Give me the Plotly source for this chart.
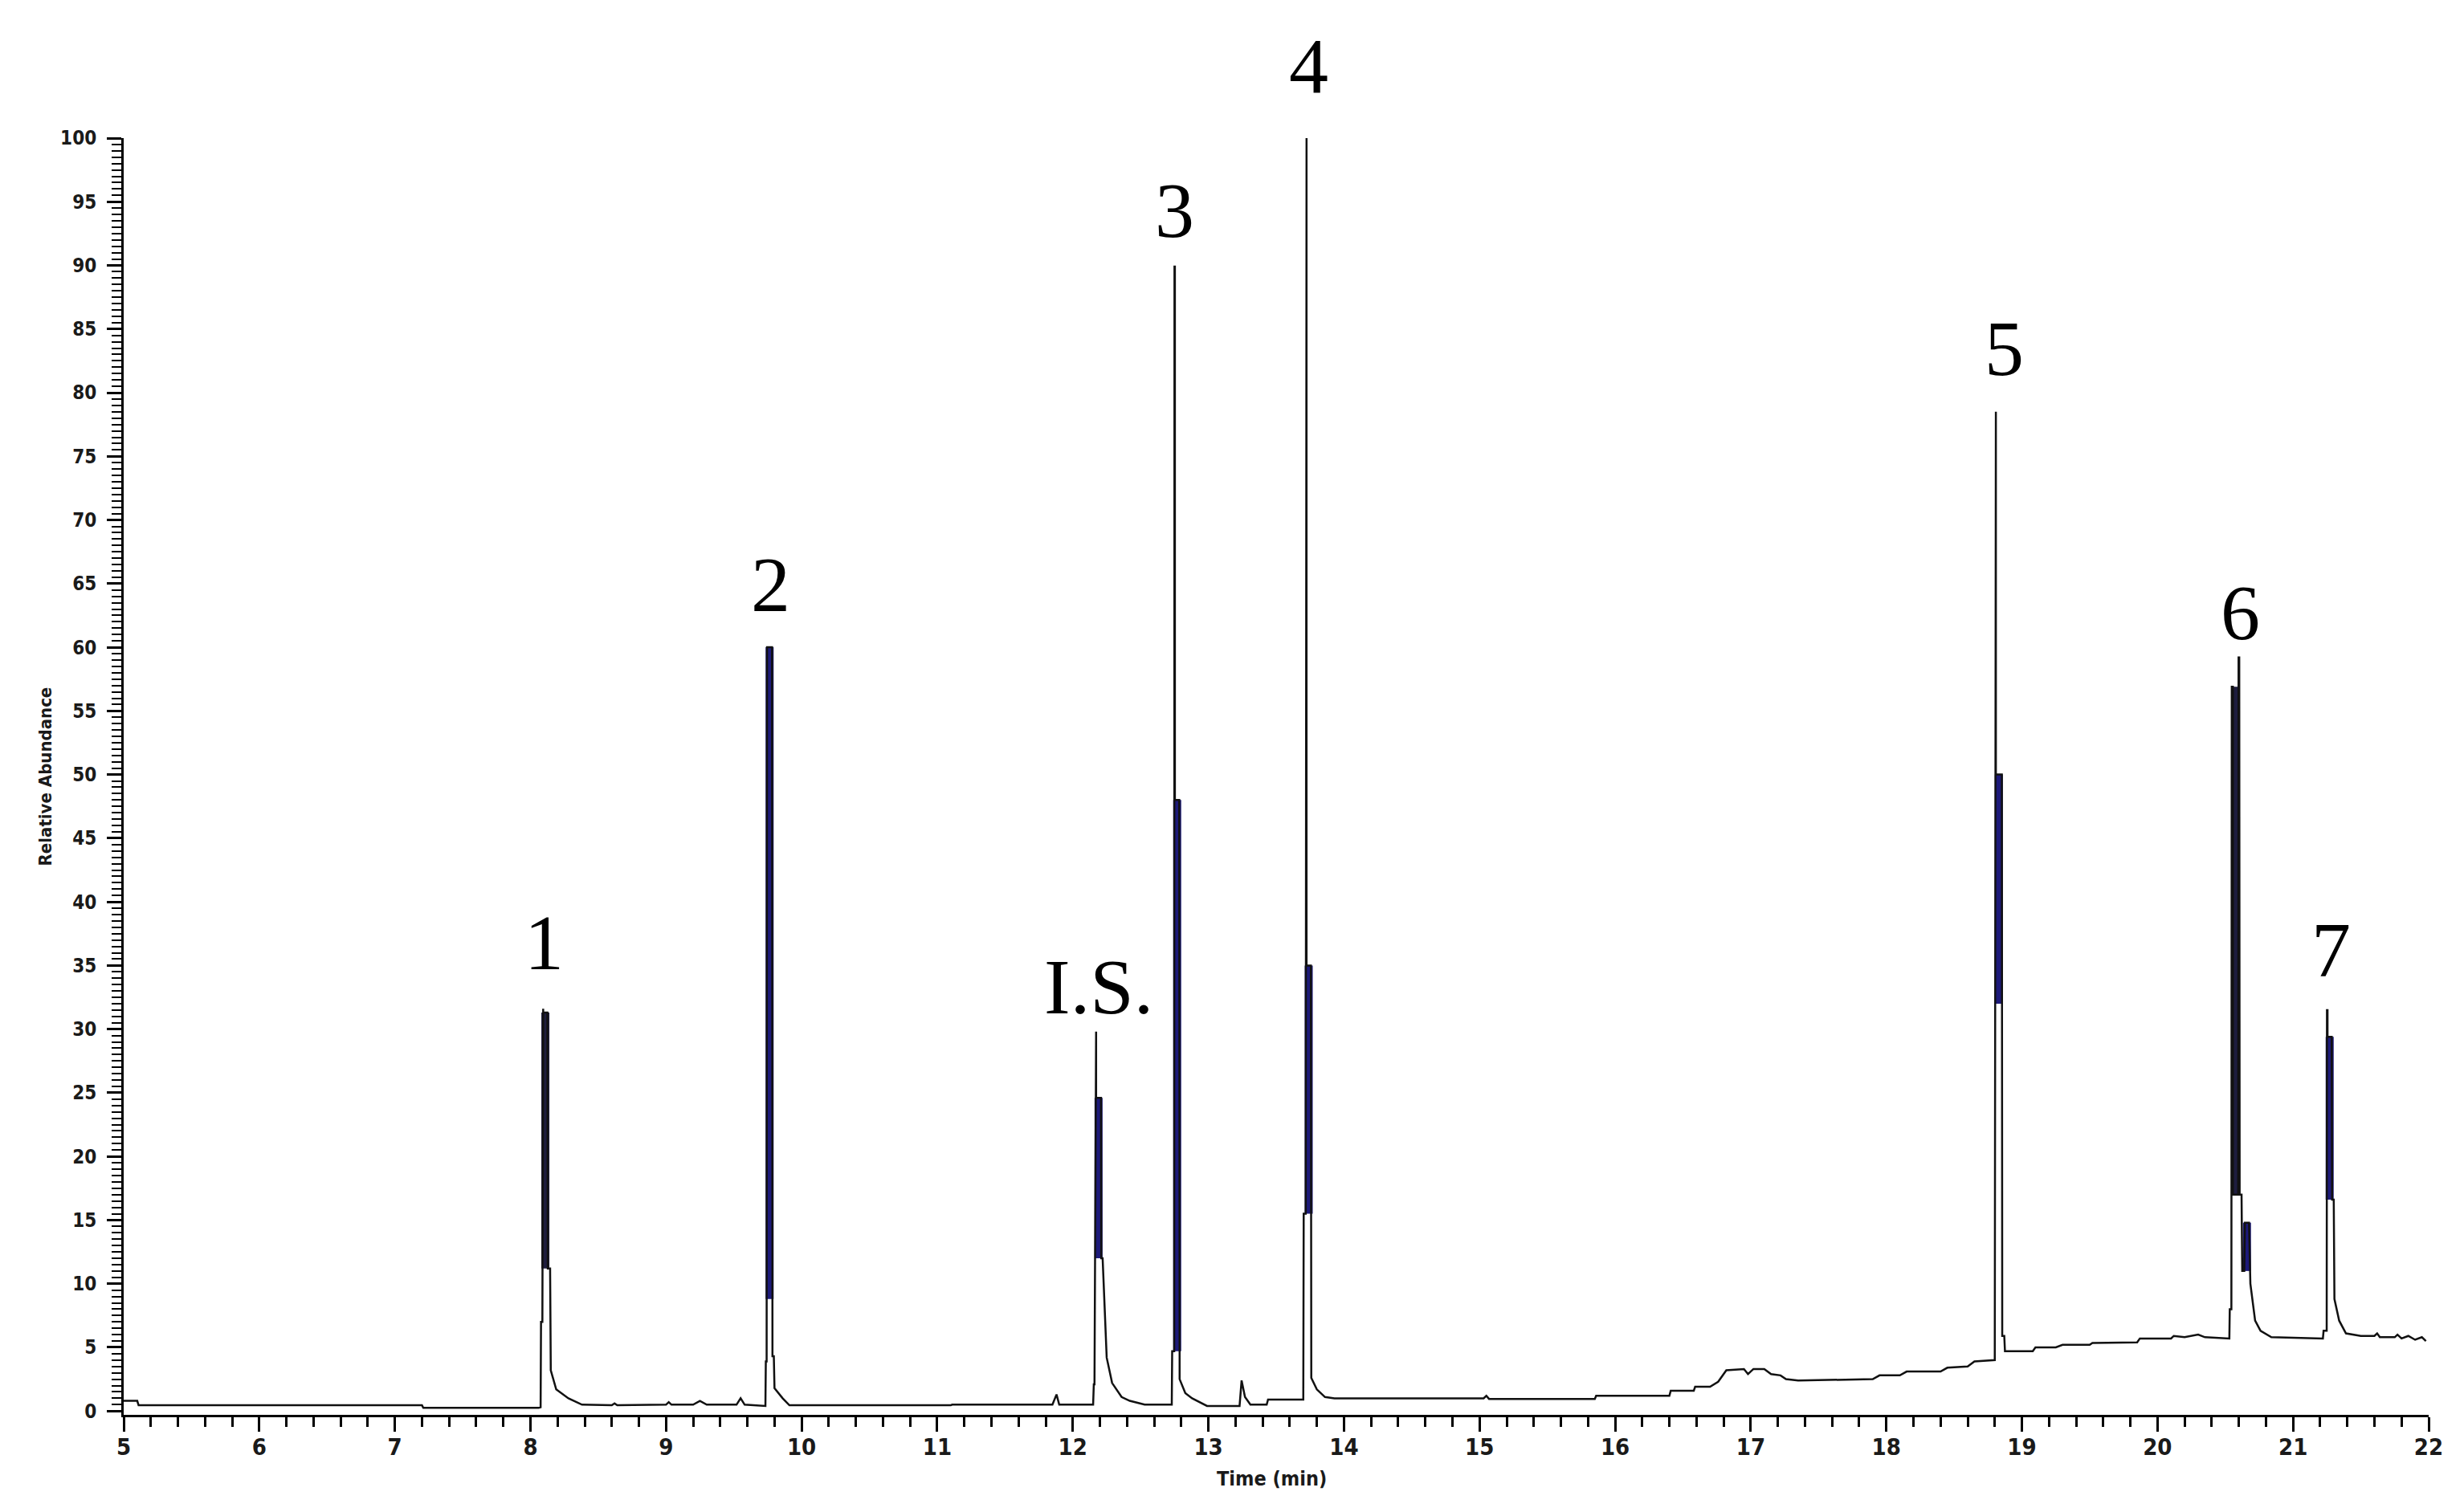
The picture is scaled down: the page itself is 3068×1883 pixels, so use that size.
import plotly.graph_objects as go

# chromatogram trace (time in min, relative abundance in %)
time_min = [
    5.00, 5.10, 5.11, 7.20, 7.21, 8.06,
    # peak 1
    8.075, 8.078, 8.088, 8.090, 8.094, 8.094, 8.125, 8.128, 8.145, 8.150, 8.19, 8.28, 8.38,
    8.60, 8.62, 8.64, 9.00, 9.02, 9.04, 9.20, 9.25, 9.30, 9.52, 9.55, 9.58, 9.72,
    # peak 2
    9.733, 9.736, 9.742, 9.745, 9.782, 9.785, 9.795, 9.80, 9.86, 9.91,
    11.10, 11.11, 11.85, 11.88, 11.90, 12.15,
    # I.S.
    12.155, 12.160, 12.168, 12.170, 12.172, 12.172, 12.208, 12.210, 12.22, 12.25, 12.29, 12.36, 12.42, 12.53,
    12.73,
    # peak 3
    12.733, 12.748, 12.750, 12.753, 12.753, 12.785, 12.788, 12.83, 12.88, 12.99,
    13.23, 13.245, 13.27, 13.31, 13.43, 13.44, 13.70,
    # peak 4
    13.703, 13.718, 13.720, 13.724, 13.724, 13.756, 13.759, 13.80, 13.86, 13.93,
    15.03, 15.05, 15.07, 15.85, 15.86, 16.40, 16.41, 16.58, 16.59, 16.70, 16.76, 16.82,
    16.95, 16.98, 17.02, 17.10, 17.15, 17.22, 17.26, 17.35, 17.90, 17.95, 18.10, 18.15,
    18.40, 18.45, 18.60, 18.65, 18.80,
    # peak 5
    18.805, 18.808, 18.808, 18.852, 18.855, 18.87, 18.875, 19.08, 19.10, 19.25, 19.30,
    19.50, 19.52, 19.85, 19.87, 20.10, 20.12, 20.20, 20.30, 20.35, 20.53,
    # peak 6
    20.533, 20.545, 20.548, 20.556, 20.556, 20.595, 20.598, 20.603, 20.606, 20.62, 20.625,
    20.64, 20.645, 20.675, 20.685, 20.72, 20.76, 20.84, 21.22,
    # peak 7
    21.225, 21.248, 21.250, 21.254, 21.254, 21.285, 21.288, 21.300, 21.305, 21.34, 21.39,
    21.50, 21.60, 21.62, 21.64, 21.75, 21.77, 21.80, 21.85, 21.90, 21.95, 21.98,
]
rel_abund = [
    0.8, 0.8, 0.45, 0.45, 0.25, 0.25,
    0.3, 7.0, 7.0, 31.6, 31.6, 31.3, 31.3, 11.2, 11.2, 3.2, 1.7, 1.0, 0.5,
    0.45, 0.6, 0.45, 0.5, 0.7, 0.5, 0.5, 0.8, 0.5, 0.5, 1.0, 0.5, 0.4,
    0.4, 3.9, 3.9, 60.0, 60.0, 4.3, 4.3, 1.8, 1.0, 0.45,
    0.45, 0.5, 0.5, 1.3, 0.5, 0.5,
    2.1, 2.1, 29.8, 29.8, 29.8, 24.6, 24.6, 12.0, 12.0, 4.2, 2.2, 1.1, 0.8, 0.5,
    0.5,
    4.7, 4.7, 89.9, 89.9, 48.0, 48.0, 2.5, 1.4, 1.0, 0.4,
    0.4, 2.4, 1.1, 0.5, 0.5, 0.9, 0.9,
    15.5, 15.5, 100.0, 100.0, 35.0, 35.0, 2.6, 1.7, 1.1, 1.0,
    1.0, 1.2, 0.95, 0.95, 1.2, 1.2, 1.6, 1.6, 1.9, 1.9, 2.3, 3.2,
    3.3, 2.9, 3.3, 3.3, 2.9, 2.8, 2.5, 2.4, 2.5, 2.8, 2.8, 3.1,
    3.1, 3.4, 3.5, 3.9, 4.0,
    78.5, 78.5, 50.0, 50.0, 5.9, 5.9, 4.7, 4.7, 5.0, 5.0, 5.2,
    5.2, 5.35, 5.4, 5.7, 5.7, 5.9, 5.8, 6.0, 5.8, 5.7,
    8.0, 8.0, 56.9, 56.9, 17.0, 17.0, 59.2, 59.2, 17.0, 17.0, 11.0,
    11.0, 14.8, 14.8, 10.0, 7.1, 6.3, 5.8, 5.7,
    6.3, 6.3, 31.5, 31.5, 29.4, 29.4, 16.6, 16.6, 8.8, 7.1, 6.1,
    5.9, 5.9, 6.1, 5.8, 5.8, 6.0, 5.7, 5.9, 5.6, 5.8, 5.5,
]

# filled (integrated) part of each peak
fill_t = [8.110, 9.764, 12.190, 12.770, 13.740, 18.830, 20.576, 20.660, 21.270]
fill_lo = [11.2, 8.8, 12.0, 4.7, 15.5, 32.0, 17.0, 11.0, 16.6]
fill_hi = [31.3, 60.0, 24.6, 48.0, 35.0, 50.0, 56.9, 14.8, 29.4]
fill_col = ["#1e1d3e", "#1d1a7a", "#1d1a7a", "#1d1a7a", "#1d1a7a", "#1d1a7a",
            "#1e1d3e", "#1d1a7a", "#1d1a7a"]

# peak labels
label_text = ["1", "2", "I.S.", "3", "4", "5", "6", "7"]
label_t = [8.10, 9.77, 12.19, 12.75, 13.74, 18.87, 20.61, 21.28]
label_y = [36.8, 64.9, 33.3, 94.3, 105.7, 83.5, 62.7, 36.2]

x_ticks = list(range(5, 23))
y_ticks = list(range(0, 101, 5))

y_range = [-0.3, 100]

fig = go.Figure()

for t, lo, hi, c in zip(fill_t, fill_lo, fill_hi, fill_col):
    fig.add_trace(go.Scatter(x=[t, t], y=[lo, hi], mode='lines',
                             line=dict(color=c, width=10), hoverinfo='skip'))

fig.add_trace(go.Scatter(x=time_min, y=rel_abund, mode='lines',
                         line=dict(color='#111111', width=2.5)))

for txt, t, yv in zip(label_text, label_t, label_y):
    fig.add_annotation(x=t, xref='x', y=(yv - y_range[0]) / (y_range[1] - y_range[0]),
                       yref='paper', text=txt, showarrow=False,
                       xanchor='center', yanchor='middle',
                       font=dict(family='Liberation Serif, serif', size=98, color='black'))

small = 'DejaVu Sans Condensed, Liberation Sans Narrow, sans-serif'

fig.add_annotation(x=-0.034, xref='paper', y=0.5, yref='paper', text='Relative Abundance',
                   textangle=-90, showarrow=False, xanchor='center', yanchor='middle',
                   font=dict(family=small, size=22, color='#1a1a1a', weight='bold'))
fig.add_annotation(x=0.498, xref='paper', y=-0.05, yref='paper', text='Time (min)',
                   showarrow=False, xanchor='center', yanchor='middle',
                   font=dict(family=small, size=25, color='#1a1a1a', weight='bold'))

fig.update_layout(
    width=3068, height=1883,
    margin=dict(l=146, r=52, t=164, b=129),
    paper_bgcolor='white', plot_bgcolor='white',
    showlegend=False,
    xaxis=dict(range=[5, 22], tickvals=x_ticks, ticktext=[str(v) for v in x_ticks],
               showgrid=False, zeroline=False, showline=True, linecolor='black', linewidth=3,
               ticks='outside', ticklen=18, tickwidth=3, tickcolor='black', ticklabelstandoff=-6,
               minor=dict(dtick=0.2, ticks='outside', ticklen=12, tickwidth=3, tickcolor='black'),
               tickfont=dict(family=small, size=29, color='#1a1a1a', weight='bold')),
    yaxis=dict(range=y_range, tickvals=y_ticks, ticktext=[str(v) for v in y_ticks],
               showgrid=False, zeroline=False, showline=True, linecolor='black', linewidth=3,
               ticks='outside', ticklen=18, tickwidth=3, tickcolor='black', ticklabelstandoff=8,
               minor=dict(dtick=0.5, ticks='outside', ticklen=12, tickwidth=2, tickcolor='black'),
               tickfont=dict(family=small, size=24, color='#1a1a1a', weight='bold')),
)

fig.write_html("out.html")
